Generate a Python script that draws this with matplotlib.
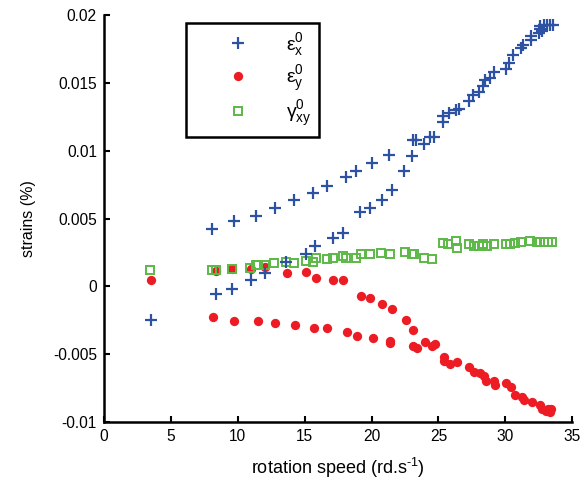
import numpy as np
import matplotlib
matplotlib.use("Agg")
from matplotlib import pyplot as plt
from matplotlib.ticker import FuncFormatter

# strains vs rotation speed
ex_speed = [3.5, 8.1, 9.7, 11.4, 12.75, 14.2, 15.65, 16.7, 18.1, 18.85, 20.0, 21.3,
            8.4, 9.6, 11.0, 12.0, 13.6, 15.1, 15.8, 17.1, 17.9, 19.1, 19.9, 20.8,
            21.5, 22.4, 23.05, 23.1, 23.3, 23.9, 24.35, 24.65, 25.35, 25.35, 25.8,
            26.3, 26.5, 27.3, 27.55, 28.0, 28.3, 28.5, 28.85, 29.15, 30.05, 30.3,
            30.6, 31.15, 31.35, 31.9, 31.9, 32.5, 32.55, 32.7, 32.6, 32.85, 33.1,
            33.35, 33.55]
ex_strain = [-0.0025, 0.0042, 0.0048, 0.0052, 0.0058, 0.0064, 0.0069, 0.0074, 0.0081,
             0.0085, 0.0091, 0.0097,
             -0.0006, -0.0002, 0.0005, 0.001, 0.0018, 0.0024, 0.003, 0.0036, 0.0039,
             0.0055, 0.0058, 0.0064, 0.0071, 0.0085, 0.0096, 0.0108, 0.0108, 0.0105,
             0.011, 0.011, 0.0121, 0.0126, 0.0128, 0.013, 0.0131, 0.0137, 0.0141,
             0.0143, 0.0148, 0.0152, 0.0154, 0.0158, 0.016, 0.0165, 0.0171, 0.0176,
             0.0178, 0.0182, 0.0185, 0.0187, 0.019, 0.0188, 0.0192, 0.0193, 0.0193,
             0.0193, 0.0193]

ey_speed = [3.5, 8.4, 9.6, 11.0, 12.0, 13.7, 15.1, 15.85, 17.15, 17.9, 19.2, 19.9,
            20.8, 21.5, 22.55, 23.1,
            8.15, 9.75, 11.5, 12.8, 14.3, 15.7, 16.7, 18.2, 18.9, 20.1, 21.4, 21.4,
            23.1, 23.4, 24.0, 24.5, 24.75, 25.4, 25.4, 25.85, 26.4, 27.3, 27.65,
            28.1, 28.4, 28.55, 29.15, 29.2, 30.05, 30.4, 30.7, 31.25, 31.4, 32.0,
            32.55, 32.75, 33.0, 33.2, 33.4, 33.35]
ey_strain = [0.0005, 0.0011, 0.0013, 0.00125, 0.0014, 0.001, 0.00105, 0.0006, 0.00044,
             0.00044, -0.00068, -0.00084, -0.00127, -0.0017, -0.00252, -0.00325,
             -0.00227, -0.00256, -0.00256, -0.0027, -0.00286, -0.0031, -0.0031,
             -0.0034, -0.0037, -0.00383, -0.004, -0.0042, -0.0044, -0.00456,
             -0.00408, -0.0044, -0.00426, -0.00522, -0.00552, -0.00571, -0.0056,
             -0.00596, -0.00633, -0.0064, -0.00665, -0.00695, -0.00695, -0.00726,
             -0.00714, -0.00739, -0.00798, -0.00813, -0.00837, -0.00855, -0.00872,
             -0.00904, -0.00916, -0.00904, -0.00904, -0.00929]

gxy_speed = [3.45, 8.1, 8.4, 9.6, 10.95, 11.4, 11.5, 12.05, 12.74, 13.6, 14.2, 15.07,
             15.6, 15.85, 16.65, 17.15, 17.85, 18.1, 18.8, 19.2, 19.9, 20.7, 21.35,
             22.5, 23.0, 23.2, 23.9, 24.55, 25.3, 25.7, 26.3, 26.35, 27.3, 27.65,
             28.0, 28.35, 28.65, 29.15, 30.05, 30.35, 30.7, 31.2, 31.85, 32.35,
             32.6, 32.9, 33.2, 33.5]
gxy_strain = [0.0012, 0.00123, 0.00123, 0.0013, 0.00138, 0.0016, 0.00155, 0.00155,
              0.0017, 0.0018, 0.0017, 0.0019, 0.0018, 0.0021, 0.002, 0.0021, 0.0022,
              0.0021, 0.0021, 0.00236, 0.00236, 0.00246, 0.00242, 0.00252, 0.0024,
              0.0024, 0.0021, 0.002, 0.0032, 0.00315, 0.00335, 0.0028, 0.0031,
              0.003, 0.003, 0.0031, 0.003, 0.0031, 0.0031, 0.00315, 0.0032, 0.00327,
              0.00335, 0.00327, 0.00327, 0.00327, 0.00327, 0.00327]

plt.rcParams['font.family'] = ['Liberation Sans', 'DejaVu Sans']
plt.rcParams['mathtext.fontset'] = 'custom'
plt.rcParams['mathtext.rm'] = 'Liberation Sans'
plt.rcParams['mathtext.it'] = 'Liberation Sans'
plt.rcParams['axes.unicode_minus'] = False

fig = plt.figure(figsize=(5.87, 4.90), dpi=100)
ax = fig.add_axes([0.177, 0.139, 0.798, 0.830])

h_y, = ax.plot(ey_speed, ey_strain, 'o', color='#ed1c24', ms=6.7, mew=0, zorder=2)
h_g, = ax.plot(gxy_speed, gxy_strain, 's', color='#5cb946', mfc='none', ms=6, mew=1.4, zorder=3)
h_x, = ax.plot(ex_speed, ex_strain, '+', color='#2e52a3', ms=8, mew=1.6, zorder=4)

ax.set_xlim(0, 35)
ax.set_ylim(-0.01, 0.02)
ax.set_xticks(np.arange(0, 36, 5))
ax.set_yticks(np.arange(-0.01, 0.0201, 0.005))
ax.yaxis.set_major_formatter(FuncFormatter(lambda v, p: '%g' % round(v, 4)))
ax.tick_params(direction='in', length=4, width=1.5, labelsize=11.2, pad=5)
for s in ['top', 'right']:
    ax.spines[s].set_visible(False)
for s in ['left', 'bottom']:
    ax.spines[s].set_linewidth(1.8)

ax.set_xlabel(r'rotation speed (rd.s$^{\text{-}1}$)', fontsize=13, labelpad=9)
ax.set_ylabel('strains (%)', fontsize=11.5, labelpad=12)

leg = ax.legend([h_x, h_y, h_g],
                [r'$\mathrm{ε}^0_x$', r'$\mathrm{ε}^0_y$', r'$\mathrm{γ}^0_{xy}$'],
                loc='upper left', bbox_to_anchor=(0.175, 0.98), borderaxespad=0,
                fontsize=14, handlelength=4.6, handletextpad=0.15, borderpad=0.4,
                labelspacing=0.28, fancybox=False, framealpha=1, edgecolor='black')
leg.get_frame().set_linewidth(1.8)

fig.savefig('out.png', dpi=100)
